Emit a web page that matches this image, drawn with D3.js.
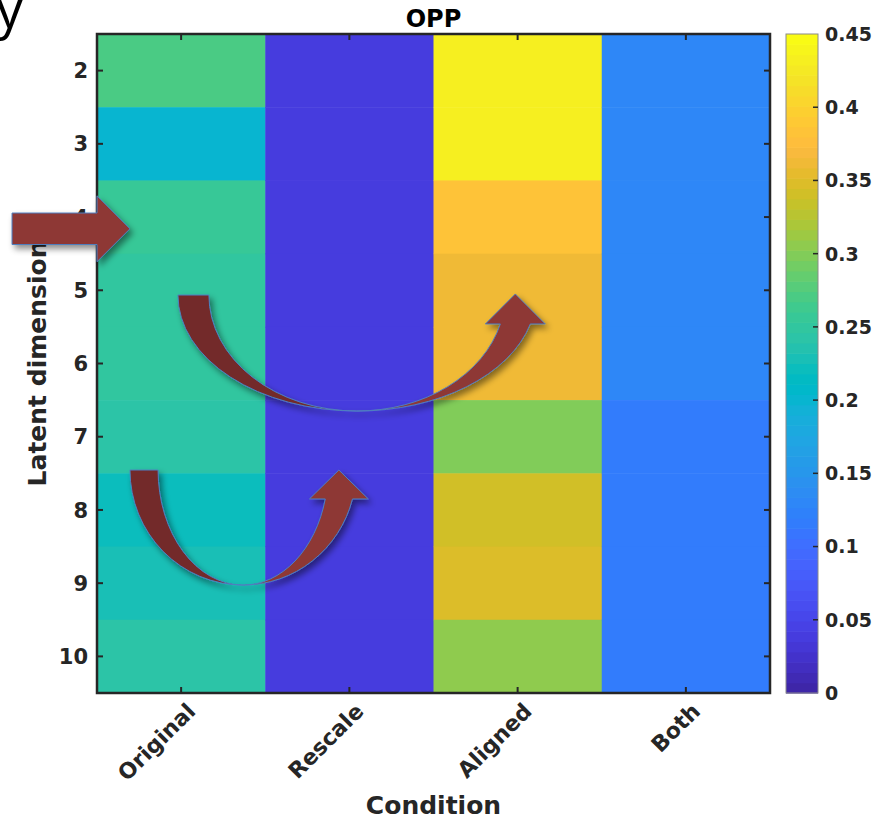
<!DOCTYPE html>
<html>
<head>
<meta charset="utf-8">
<script src="https://cdn.jsdelivr.net/npm/d3@7"></script>
<style>
  html, body { margin: 0; padding: 0; background: #fff; }
  svg { display: block; }
</style>
</head>
<body>
<script>
// ---------------- data ----------------
const categories = ["Original", "Rescale", "Aligned", "Both"];
const dims = [2, 3, 4, 5, 6, 7, 8, 9, 10];
const original = [0.271, 0.200, 0.257, 0.250, 0.250, 0.243, 0.222, 0.228, 0.243];
const rescale  = [0.038, 0.038, 0.038, 0.038, 0.038, 0.037, 0.038, 0.041, 0.038];
const aligned  = [0.432, 0.432, 0.383, 0.362, 0.362, 0.299, 0.341, 0.348, 0.306];
const both     = [0.132, 0.132, 0.132, 0.132, 0.132, 0.116, 0.116, 0.116, 0.116];
const colorRange = [0, 0.45];
const colorbarTicks = [0, 0.05, 0.1, 0.15, 0.2, 0.25, 0.3, 0.35, 0.4, 0.45];
const colorbarTickLabels = ["0", "0.05", "0.1", "0.15", "0.2", "0.25", "0.3", "0.35", "0.4", "0.45"];
const titleText = "OPP";
const xLabelText = "Condition";
const yLabelText = "Latent dimension";

// MATLAB parula (64)
const parula = [
[0.2422,0.1504,0.6603],[0.2504,0.1650,0.7076],[0.2578,0.1818,0.7511],[0.2647,0.1978,0.7952],
[0.2706,0.2147,0.8364],[0.2751,0.2342,0.8710],[0.2783,0.2559,0.8991],[0.2803,0.2782,0.9221],
[0.2813,0.3006,0.9414],[0.2810,0.3228,0.9579],[0.2795,0.3447,0.9717],[0.2760,0.3667,0.9829],
[0.2699,0.3892,0.9906],[0.2602,0.4123,0.9952],[0.2440,0.4358,0.9988],[0.2206,0.4603,0.9973],
[0.1963,0.4847,0.9892],[0.1834,0.5074,0.9798],[0.1786,0.5289,0.9682],[0.1764,0.5499,0.9520],
[0.1687,0.5703,0.9359],[0.1540,0.5902,0.9218],[0.1460,0.6091,0.9079],[0.1380,0.6276,0.8973],
[0.1248,0.6459,0.8883],[0.1113,0.6635,0.8763],[0.0952,0.6798,0.8598],[0.0689,0.6948,0.8394],
[0.0297,0.7082,0.8163],[0.0036,0.7203,0.7917],[0.0067,0.7312,0.7660],[0.0433,0.7411,0.7394],
[0.0964,0.7500,0.7120],[0.1408,0.7584,0.6842],[0.1717,0.7670,0.6554],[0.1938,0.7758,0.6251],
[0.2161,0.7843,0.5923],[0.2470,0.7918,0.5567],[0.2906,0.7973,0.5188],[0.3406,0.8008,0.4789],
[0.3909,0.8029,0.4354],[0.4456,0.8024,0.3909],[0.5044,0.7993,0.3480],[0.5616,0.7942,0.3045],
[0.6174,0.7876,0.2612],[0.6720,0.7793,0.2227],[0.7242,0.7698,0.1910],[0.7738,0.7598,0.1646],
[0.8203,0.7498,0.1535],[0.8634,0.7406,0.1596],[0.9035,0.7330,0.1774],[0.9393,0.7288,0.2100],
[0.9728,0.7298,0.2394],[0.9956,0.7434,0.2371],[0.9970,0.7659,0.2199],[0.9952,0.7893,0.2028],
[0.9892,0.8136,0.1885],[0.9786,0.8386,0.1766],[0.9676,0.8639,0.1643],[0.9610,0.8890,0.1537],
[0.9597,0.9135,0.1423],[0.9628,0.9373,0.1265],[0.9691,0.9606,0.1064],[0.9769,0.9839,0.0805]
].map(c => d3.rgb(c[0]*255, c[1]*255, c[2]*255).formatHex());

// annotation arrows, in continuous cell units (column 0..4, row 0..9)
const straightArrow = { x0: -0.505, xBase: 0.0, xTip: 0.196, y: 2.66, shaftHalf: 0.215, headHalf: 0.45 };
const curvedArrows = [
  { cx: 1.545, cy: 3.565, rxo: 1.064, rxi: 0.88, ry: 1.584, headBaseY: 3.96, tipY: 3.55, headHalf: 0.178 },
  { cx: 0.868, cy: 5.955, rxo: 0.672, rxi: 0.505, ry: 1.571, headBaseY: 6.35, tipY: 5.955, headHalf: 0.175 }
];

// ---------------- layout ----------------
const W = 874, H = 820;
const plot = { left: 97, right: 770, top: 34, bottom: 693 };
const cbar = { left: 786, right: 818 };

const svg = d3.select("body").append("svg").attr("width", W).attr("height", H)
  .style("font-family", "'DejaVu Sans', sans-serif");
svg.append("rect").attr("width", W).attr("height", H).attr("fill", "#fff");

const defs = svg.append("defs");
const f = defs.append("filter").attr("id", "shadow").attr("x", "-20%").attr("y", "-20%").attr("width", "150%").attr("height", "150%");
f.append("feDropShadow").attr("dx", 3).attr("dy", 4).attr("stdDeviation", 3)
  .attr("flood-color", "#000").attr("flood-opacity", 0.45);

const x = d3.scaleBand().domain(categories).range([plot.left, plot.right]).padding(0);
const y = d3.scaleBand().domain(dims).range([plot.top, plot.bottom]).padding(0);
const color = d3.scaleQuantize().domain(colorRange).range(parula);
const xc = d3.scaleLinear().domain([0, categories.length]).range([plot.left, plot.right]);
const yc = d3.scaleLinear().domain([0, dims.length]).range([plot.top, plot.bottom]);

const series = [original, rescale, aligned, both];
const cells = [];
categories.forEach((c, i) => dims.forEach((d, j) => cells.push({ c, d, v: series[i][j] })));

svg.append("g").selectAll("rect").data(cells).join("rect")
  .attr("x", d => x(d.c)).attr("y", d => y(d.d))
  .attr("width", x.bandwidth() + 0.5).attr("height", y.bandwidth() + 0.5)
  .attr("fill", d => color(d.v));

// axes frame and inside ticks
const axisColor = "#262626";
const tickLen = 6;
const tg = svg.append("g").attr("stroke", axisColor).attr("stroke-width", 2);
categories.forEach(c => {
  const cx = x(c) + x.bandwidth() / 2;
  tg.append("line").attr("x1", cx).attr("x2", cx).attr("y1", plot.bottom).attr("y2", plot.bottom - tickLen);
  tg.append("line").attr("x1", cx).attr("x2", cx).attr("y1", plot.top).attr("y2", plot.top + tickLen);
});
dims.forEach(d => {
  const cy = y(d) + y.bandwidth() / 2;
  tg.append("line").attr("x1", plot.left).attr("x2", plot.left + tickLen).attr("y1", cy).attr("y2", cy);
  tg.append("line").attr("x1", plot.right).attr("x2", plot.right - tickLen).attr("y1", cy).attr("y2", cy);
});
svg.append("rect").attr("x", plot.left).attr("y", plot.top)
  .attr("width", plot.right - plot.left).attr("height", plot.bottom - plot.top)
  .attr("fill", "none").attr("stroke", axisColor).attr("stroke-width", 2.5);

// tick labels
svg.append("g").selectAll("text").data(dims).join("text")
  .attr("x", plot.left - 9).attr("y", d => y(d) + y.bandwidth() / 2)
  .attr("dy", "0.36em").attr("text-anchor", "end")
  .attr("font-size", 21).attr("font-weight", "bold").attr("fill", axisColor)
  .text(d => d);

svg.append("g").selectAll("text").data(categories).join("text")
  .attr("transform", c => `translate(${x(c) + x.bandwidth() / 2 + 10},${plot.bottom + 14}) rotate(-45)`)
  .attr("dy", "0.36em").attr("text-anchor", "end")
  .attr("font-size", 22).attr("font-weight", "bold").attr("fill", axisColor)
  .text(c => c);

// axis labels and title
svg.append("text").attr("x", (plot.left + plot.right) / 2).attr("y", 814)
  .attr("text-anchor", "middle").attr("font-size", 25).attr("font-weight", "bold").attr("fill", axisColor)
  .text(xLabelText);
svg.append("text").attr("transform", `translate(46,${(plot.top + plot.bottom) / 2}) rotate(-90)`)
  .attr("text-anchor", "middle").attr("font-size", 25).attr("font-weight", "bold").attr("fill", axisColor)
  .text(yLabelText);
svg.append("text").attr("x", (plot.left + plot.right) / 2).attr("y", 27)
  .attr("text-anchor", "middle").attr("font-size", 24).attr("font-weight", "bold").attr("fill", "#000")
  .text(titleText);

// cropped letter at top-left
svg.append("text").attr("x", -4).attr("y", 28)
  .attr("font-family", "'Open Sans', sans-serif").attr("font-size", 54).attr("fill", "#000")
  .text("y");

// colorbar
const cy = d3.scaleLinear().domain(colorRange).range([plot.bottom, plot.top]);
const step = (colorRange[1] - colorRange[0]) / parula.length;
svg.append("g").selectAll("rect").data(parula).join("rect")
  .attr("x", cbar.left).attr("width", cbar.right - cbar.left)
  .attr("y", (c, i) => cy(colorRange[0] + (i + 1) * step))
  .attr("height", (c, i) => cy(colorRange[0] + i * step) - cy(colorRange[0] + (i + 1) * step) + 0.6)
  .attr("fill", c => c);
svg.append("rect").attr("x", cbar.left).attr("y", plot.top)
  .attr("width", cbar.right - cbar.left).attr("height", plot.bottom - plot.top)
  .attr("fill", "none").attr("stroke", "#8a8a8a").attr("stroke-width", 1);
svg.append("g").selectAll("line").data(colorbarTicks.slice(1, -1)).join("line")
  .attr("x1", cbar.right).attr("x2", cbar.right - 5)
  .attr("y1", d => cy(d)).attr("y2", d => cy(d))
  .attr("stroke", axisColor).attr("stroke-width", 1.5);
svg.append("g").selectAll("text").data(colorbarTicks).join("text")
  .attr("x", cbar.right + 7).attr("y", d => cy(d)).attr("dy", "0.36em")
  .attr("font-size", 19).attr("font-weight", "bold").attr("fill", axisColor)
  .text((d, i) => colorbarTickLabels[i]);

// annotation arrows
const arrowFill = "#8e3736", arrowDark = "#732a2b", arrowStroke = "#4f7fbf";
const ag = svg.append("g");
{
  const a = straightArrow;
  const x0 = xc(a.x0), xb = xc(a.xBase), xt = xc(a.xTip), yy = yc(a.y);
  const s = yc(a.shaftHalf) - yc(0), h = yc(a.headHalf) - yc(0);
  const p = d3.path();
  p.moveTo(x0, yy - s); p.lineTo(xb, yy - s); p.lineTo(xb, yy - h); p.lineTo(xt, yy);
  p.lineTo(xb, yy + h); p.lineTo(xb, yy + s); p.lineTo(x0, yy + s); p.closePath();
  ag.append("path").attr("d", p.toString()).attr("fill", arrowFill)
    .attr("stroke", arrowStroke).attr("stroke-width", 1).attr("filter", "url(#shadow)");
}
curvedArrows.forEach(a => {
  const cx = xc(a.cx), cyy = yc(a.cy);
  const rxo = xc(a.cx + a.rxo) - cx, rxi = xc(a.cx + a.rxi) - cx;
  const ry = yc(a.cy + a.ry) - cyy;
  const yb = cyy + ry, yH = yc(a.headBaseY), yT = yc(a.tipY);
  const t = Math.sqrt(1 - Math.pow((yH - cyy) / ry, 2));
  const xo = cx + rxo * t, xi = cx + rxi * t;
  const hx = (xo + xi) / 2, hw = xc(a.headHalf) - xc(0);
  const g = ag.append("g").attr("filter", "url(#shadow)");
  g.append("path")
    .attr("d", `M${cx - rxo},${cyy} A${rxo},${ry} 0 0 0 ${cx},${yb} A${rxi},${ry} 0 0 1 ${cx - rxi},${cyy} Z`)
    .attr("fill", arrowDark).attr("stroke", arrowStroke).attr("stroke-width", 1);
  g.append("path")
    .attr("d", `M${cx},${yb} A${rxo},${ry} 0 0 0 ${xo},${yH} L${hx + hw},${yH} L${hx},${yT} L${hx - hw},${yH} L${xi},${yH} A${rxi},${ry} 0 0 1 ${cx},${yb} Z`)
    .attr("fill", arrowFill).attr("stroke", arrowStroke).attr("stroke-width", 1);
});
</script>
</body>
</html>
